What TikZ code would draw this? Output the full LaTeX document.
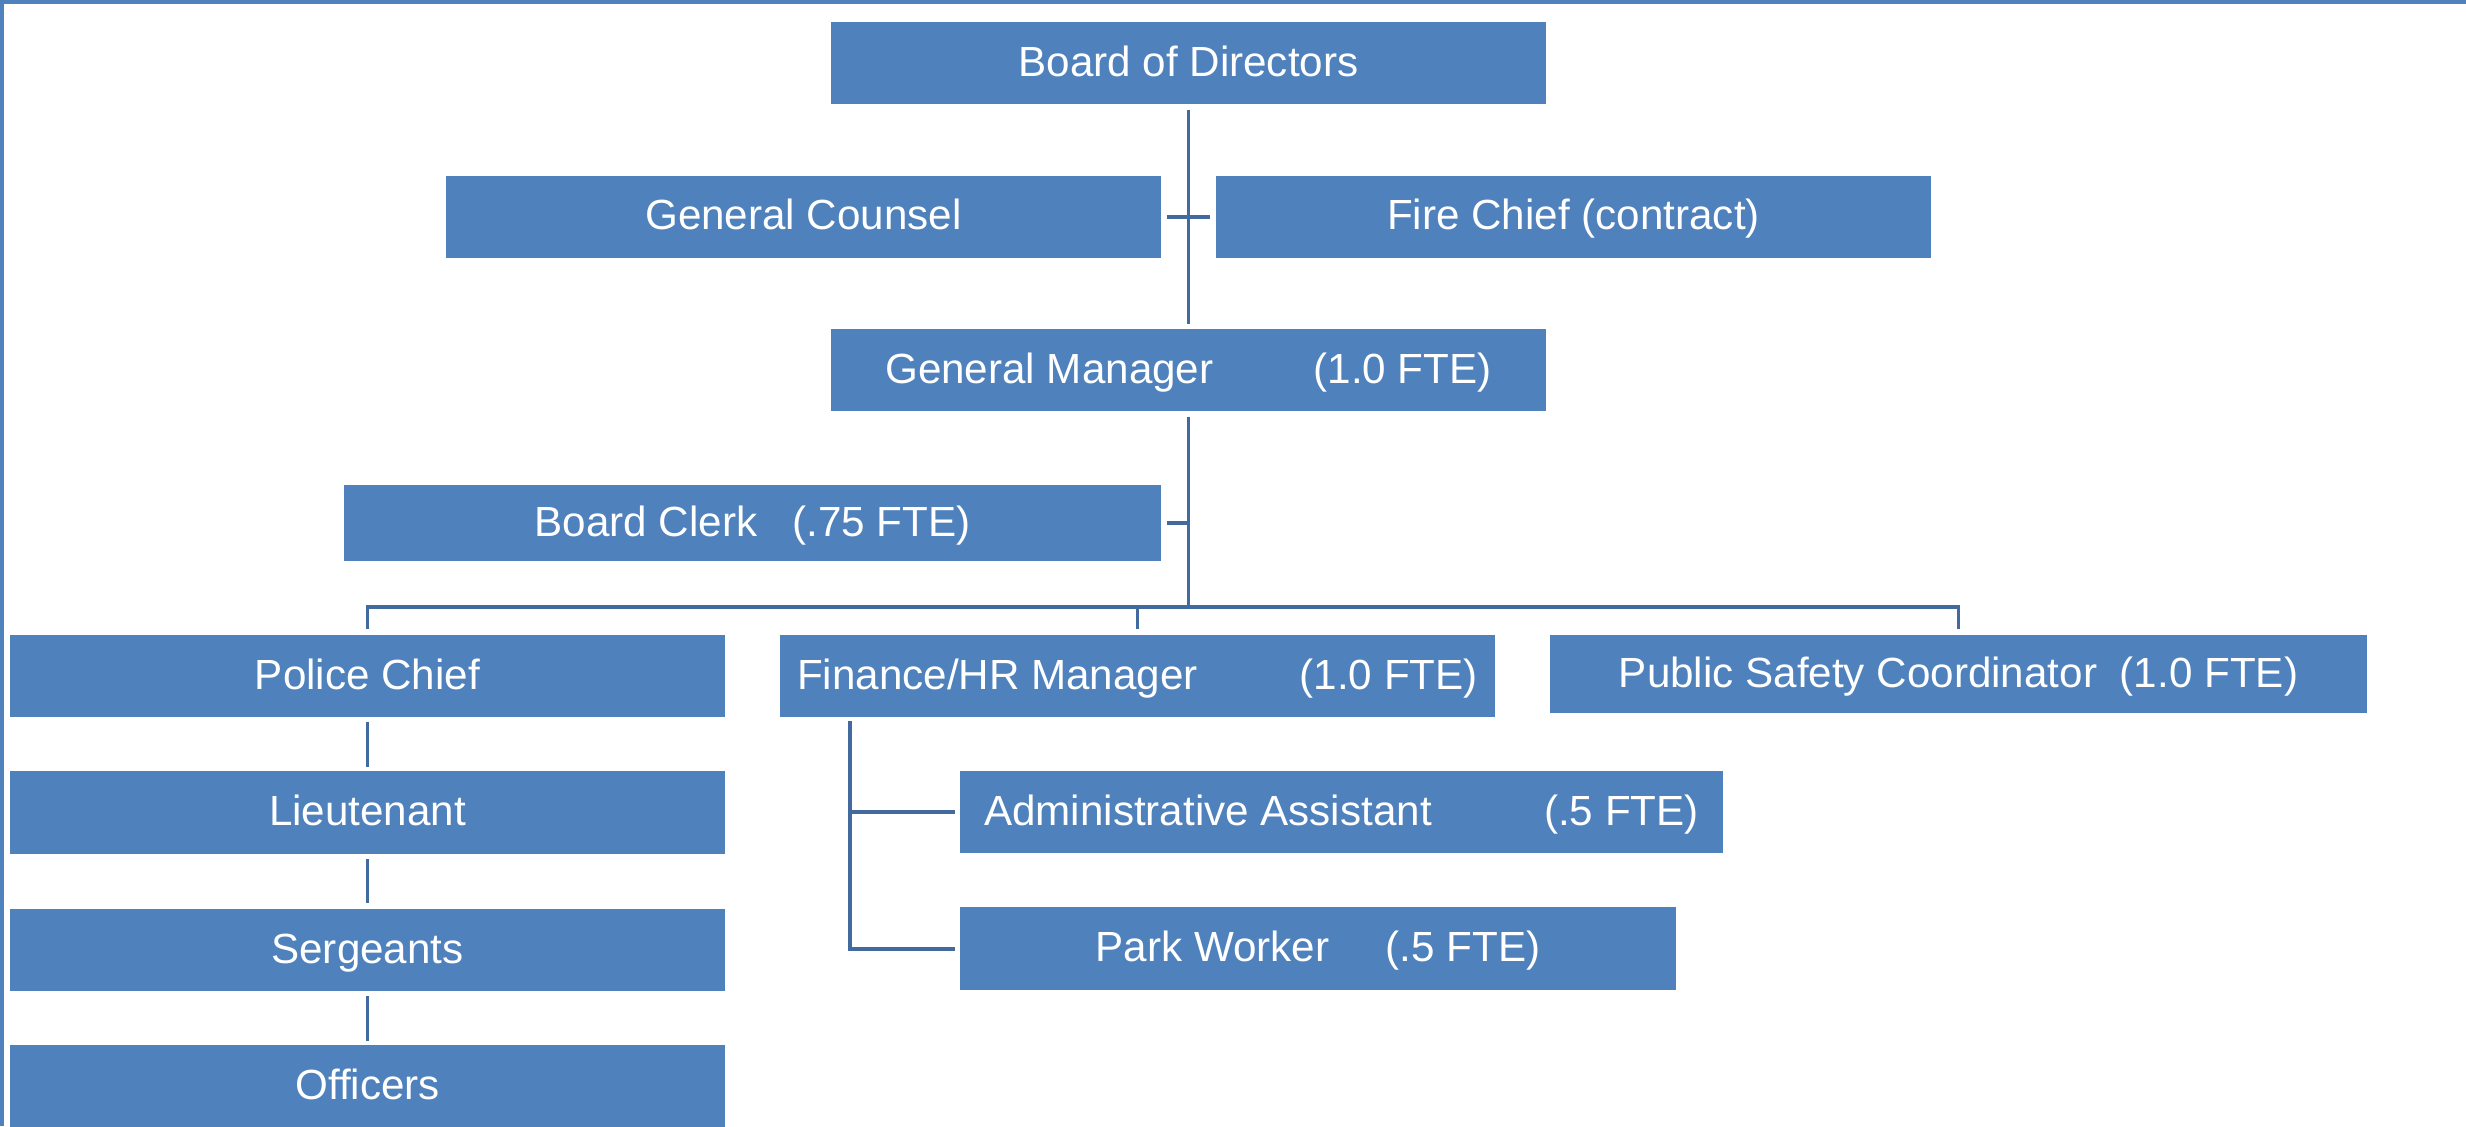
\documentclass[tikz,border=0pt]{standalone}
\usepackage{fontspec}
\setmainfont{Liberation Sans}
\usepackage{tikz}
\usetikzlibrary{positioning, calc}

\definecolor{boxblue}{RGB}{79,129,189}
\definecolor{linkblue}{RGB}{66,106,158}

\begin{document}
\begin{tikzpicture}[
        box/.style={fill=boxblue, text=white, inner sep=0pt, minimum width=7.15cm,
            minimum height=0.82cm, text height=10pt, text depth=2.5pt,
            font=\fontsize{12pt}{14pt}\selectfont},
        link/.style={draw=linkblue, line width=0.038cm},
        frame/.style={draw=boxblue, line width=0.04cm}
    ]
            \useasboundingbox (0, 0) rectangle (24.66, -11.26);
            \clip (0, 0) rectangle (24.66, -11.26);

            \draw [frame] (0.02, -11.26) -- (0.02, -0.02) -- (24.66, -0.02);

            \node [box] (board) at (11.885, -0.63) {Board of Directors};
            \node [box] (counsel) at (8.035, -2.167) {General Counsel};
            \node [box] (fire) at (15.735, -2.167) {Fire Chief (contract)};
            \node [box, minimum height=0.825cm] (gm) at (11.885, -3.70) {General Manager\hspace{28.5pt}(1.0 FTE)};
            \node [box, minimum width=8.17cm, minimum height=0.765cm] (clerk) at (7.525, -5.23) {Board Clerk\hspace{10pt}(.75 FTE)};

            \node [box] (police) at (3.675, -6.76) {Police Chief};
            \node [box] (finance) at (11.375, -6.76) {Finance/HR Manager\hspace{29pt}(1.0 FTE)};
            \node [box, minimum width=8.17cm, minimum height=0.78cm] (psc) at (19.585, -6.74) {Public Safety Coordinator\hspace{6.5pt}(1.0 FTE)};

            \node [box, minimum height=0.83cm] (lieut) at (3.675, -8.125) {Lieutenant};
            \node [box] (sergeants) at (3.675, -9.50) {Sergeants};
            \node [box] (officers) at (3.675, -10.86) {Officers};

            \node [box, minimum width=7.63cm] (admin) at (13.415, -8.12) {Administrative Assistant\hspace{32pt}(.5 FTE)};
            \node [box, minimum width=7.16cm, minimum height=0.83cm] (park) at (13.18, -9.487) {Park Worker\hspace{16pt}(.5 FTE)};

            \coordinate (bus) at (11.885, -6.07);
            \coordinate (fork) at (8.50, -7.21);

            % board, advisers and manager
            \draw [link, shorten <=0.05cm, shorten >=0.045cm] (board) -- (gm);
            \draw [link, shorten <=0.05cm, shorten >=0.05cm] (counsel.east) -- (fire.west);
            \draw [link, shorten <=0.05cm] (gm.south) -- (bus);
            \draw [link, shorten <=0.05cm] (clerk.east) -- (clerk.east -| gm.south);

            % departments
            \draw [link] ([yshift=0.05cm]police.north) |- (psc.north |- bus) -- ([yshift=0.05cm]psc.north);
            \draw [link, shorten <=0.05cm] (finance.north) -- (finance.north |- bus);

            \draw [link, shorten <=0.04cm, shorten >=0.03cm] (police) -- (lieut);
            \draw [link, shorten <=0.045cm, shorten >=0.05cm] (lieut) -- (sergeants);
            \draw [link, shorten <=0.045cm, shorten >=0.035cm] (sergeants) -- (officers);

            \draw [link] (fork) |- ([xshift=-0.04cm]park.west);
            \draw [link, shorten >=0.04cm] (fork |- admin.west) -- (admin.west);
        \end{tikzpicture}
\end{document}
